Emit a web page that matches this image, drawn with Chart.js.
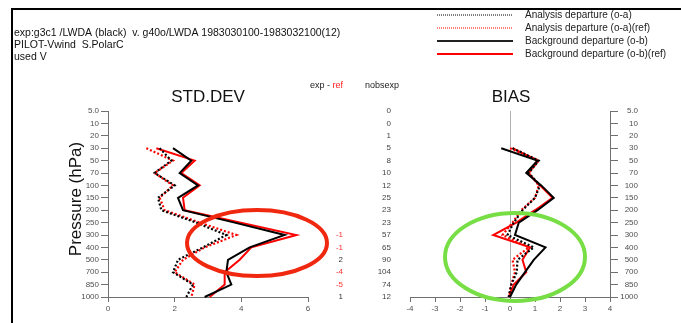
<!DOCTYPE html>
<html>
<head>
<meta charset="utf-8">
<script src="https://cdn.jsdelivr.net/npm/chart.js@4.4.1/dist/chart.umd.min.js"></script>
<style>
  html, body { margin: 0; padding: 0; background: #fff; }
  #wrap { position: relative; width: 681px; height: 323px; overflow: hidden; }
  #wrap canvas { position: absolute; left: 0; top: 0; }
</style>
</head>
<body>
<div id="wrap">
  <canvas id="std" width="681" height="323"></canvas>
  <canvas id="bias" width="681" height="323"></canvas>
</div>
<script>
// Pressure levels (hPa), top of the profile first
const levels = ['5.0', '10', '20', '30', '50', '70', '100', '150', '200', '250', '300', '400', '500', '700', '850', '1000'];

// Standard deviation profiles
const stdOA    = [null, null, null, 1.55, 1.9, 1.4, 2.0, 1.5, 1.6, 2.65, 3.55, 2.85, 2.1, 1.95, 2.55, 2.35];
const stdOARef = [null, null, null, 1.15, 1.95, 1.4, 1.95, 1.55, 1.7, 2.75, 3.85, 2.9, 2.25, 2.0, 2.6, 2.5];
const stdOB    = [null, null, null, 1.95, 2.5, 2.15, 2.7, 2.1, 2.25, 3.8, 5.3, 4.25, 3.6, 3.55, 3.7, 2.9];
const stdOBRef = [null, null, null, 1.45, 2.6, 2.2, 2.75, 2.25, 2.3, 3.95, 5.65, 4.3, 3.95, 3.5, 3.5, 3.05];

// Bias profiles
const biasOA    = [null, null, null, 0.1, 1.15, 0.75, 1.2, 1.0, 0.5, 0.15, -0.1, 0.95, 0.3, 0.27, 0.05, -0.05];
const biasOARef = [null, null, null, 0.0, 1.15, 0.75, 1.15, 1.0, 0.45, 0.1, -0.3, 0.75, 0.1, 0.2, 0.05, -0.05];
const biasOB    = [null, null, null, -0.35, 1.1, 0.65, 1.25, 1.75, 1.1, 0.35, 0.2, 1.42, 0.95, 0.6, 0.25, 0.0];
const biasOBRef = [null, null, null, 0.1, 1.1, 0.7, 1.2, 1.7, 1.0, 0.25, -0.67, 0.8, 0.5, 0.65, 0.15, -0.05];

// Observation counts and exp - ref difference per level
const nobsExp     = [0, 0, 1, 5, 8, 10, 12, 25, 23, 23, 57, 65, 90, 104, 74, 12];
const expMinusRef = [null, null, null, null, null, null, null, null, null, null, -1, -1, 2, -4, -5, 1];

// Axis ticks
const stdTicks  = [0, 2, 4, 6];
const biasTicks = [-4, -3, -2, -1, 0, 1, 2, 3, 4];

const FONT = "'Liberation Sans', Arial, Helvetica, sans-serif";
const AXIS = '#707070';
const TICKTXT = '#505050';

function series(data, color, dotted) {
  return {
    data: data,
    borderColor: color,
    backgroundColor: color,
    borderWidth: dotted ? 2.2 : 2,
    borderDash: dotted ? [2, 2] : [],
    pointRadius: 0,
    tension: 0,
    spanGaps: false,
    fill: false
  };
}

function yScale(position, extra) {
  return Object.assign({
    type: 'category',
    position: position,
    offset: false,
    grid: { drawOnChartArea: false, drawTicks: true, tickLength: 7, color: AXIS, tickColor: AXIS },
    border: { display: true, color: AXIS, width: 1 },
    ticks: { font: { family: FONT, size: 8 }, color: TICKTXT, padding: 2, autoSkip: false }
  }, extra);
}

const stdOverlay = {
  id: 'stdOverlay',
  afterDraw(chart) {
    const ctx = chart.ctx;
    const ys = chart.scales.y, xs = chart.scales.x, area = chart.chartArea;
    ctx.save();

    // frame
    ctx.strokeStyle = '#000';
    ctx.lineWidth = 2;
    ctx.beginPath();
    ctx.moveTo(12, 323); ctx.lineTo(12, 9); ctx.lineTo(681, 9);
    ctx.stroke();

    // header
    ctx.fillStyle = '#111';
    ctx.font = '10.5px ' + FONT;
    ctx.textAlign = 'left';
    ctx.textBaseline = 'middle';
    ctx.fillText('exp:g3c1 /LWDA (black)  v. g40o/LWDA 1983030100-1983032100(12)', 14, 33);
    ctx.fillText('PILOT-Vwind  S.PolarC', 14, 45);
    ctx.fillText('used V', 14, 57);

    // legend
    const leg = [
      ['Analysis departure (o-a)', '#000', true],
      ['Analysis departure (o-a)(ref)', '#ff0000', true],
      ['Background departure (o-b)', '#222', false],
      ['Background departure (o-b)(ref)', '#ff0000', false]
    ];
    const legY = [15, 28, 41, 54];
    ctx.font = '10px ' + FONT;
    leg.forEach((it, i) => {
      const y = legY[i];
      ctx.strokeStyle = it[1];
      if (it[2]) { ctx.lineWidth = 1.2; ctx.setLineDash([1, 1]); }
      else { ctx.lineWidth = 2; ctx.setLineDash([]); }
      ctx.beginPath(); ctx.moveTo(437, y); ctx.lineTo(513, y); ctx.stroke();
      ctx.setLineDash([]);
      ctx.fillStyle = '#222';
      ctx.fillText(it[0], 525, y);
    });

    // panel titles
    ctx.fillStyle = '#111';
    ctx.font = '17px ' + FONT;
    ctx.textAlign = 'center';
    ctx.fillText('STD.DEV', (area.left + area.right) / 2, 97);
    ctx.fillText('BIAS', 511, 97);

    // axis title
    ctx.save();
    ctx.translate(76, 199);
    ctx.rotate(-Math.PI / 2);
    ctx.font = '17px ' + FONT;
    ctx.fillText('Pressure (hPa)', 0, 0);
    ctx.restore();

    // middle columns
    ctx.font = '9px ' + FONT;
    ctx.textAlign = 'left';
    ctx.fillStyle = '#222';
    ctx.fillText('exp - ', 310, 86);
    const w = ctx.measureText('exp - ').width;
    ctx.fillStyle = '#ff2020';
    ctx.fillText('ref', 310 + w, 86);
    ctx.fillStyle = '#222';
    ctx.fillText('nobsexp', 365, 86);

    ctx.font = '8px ' + FONT;
    ctx.textAlign = 'right';
    levels.forEach((lv, i) => {
      const y = ys.getPixelForValue(i);
      ctx.fillStyle = '#444';
      ctx.fillText(String(nobsExp[i]), 391, y);
      const d = expMinusRef[i];
      if (d !== null) {
        ctx.fillStyle = d < 0 ? '#ff3030' : '#333';
        ctx.fillText(String(d), 343, y);
      }
    });

    // highlight ring around the 300-500 hPa region
    const cx = xs.getPixelForValue(4.47), cy = ys.getPixelForValue(10.65);
    ctx.strokeStyle = 'rgb(240,40,16)';
    ctx.lineWidth = 4;
    ctx.beginPath();
    ctx.ellipse(cx, cy, 70, 33, 0, 0, Math.PI * 2);
    ctx.stroke();
    ctx.restore();
  }
};

const biasOverlay = {
  id: 'biasOverlay',
  afterDraw(chart) {
    const ctx = chart.ctx;
    const ys = chart.scales.y, xs = chart.scales.x;
    ctx.save();
    const cx = xs.getPixelForValue(0.2), cy = ys.getPixelForValue(11.77);
    ctx.strokeStyle = 'rgb(120,222,70)';
    ctx.lineWidth = 4;
    ctx.beginPath();
    ctx.ellipse(cx, cy, 70, 44, 0, 0, Math.PI * 2);
    ctx.stroke();
    ctx.restore();
  }
};

new Chart(document.getElementById('std'), {
  type: 'line',
  data: {
    labels: levels,
    datasets: [
      series(stdOB, '#000', false),
      series(stdOA, '#000', true),
      series(stdOBRef, '#ff0000', false),
      series(stdOARef, '#ff0000', true)
    ]
  },
  options: {
    indexAxis: 'y',
    responsive: false,
    animation: false,
    devicePixelRatio: 1,
    layout: { padding: { left: 70, right: 373, top: 111, bottom: 6 } },
    plugins: { legend: { display: false }, tooltip: { enabled: false }, title: { display: false } },
    scales: {
      x: {
        type: 'linear', position: 'bottom', min: 0, max: 6,
        afterBuildTicks: s => { s.ticks = stdTicks.map(v => ({ value: v })); },
        grid: { drawOnChartArea: false, drawTicks: true, tickLength: 5, color: AXIS, tickColor: AXIS },
        border: { display: true, color: AXIS, width: 1 },
        ticks: { font: { family: FONT, size: 8 }, color: TICKTXT, padding: 2, maxRotation: 0, autoSkip: false },
        afterFit: s => { s.height = 20; }
      },
      y: yScale('left', { afterFit: s => { s.width = 38; } })
    }
  },
  plugins: [stdOverlay]
});

new Chart(document.getElementById('bias'), {
  type: 'line',
  data: {
    labels: levels,
    datasets: [
      series(biasOB, '#000', false),
      series(biasOA, '#000', true),
      series(biasOBRef, '#ff0000', false),
      series(biasOARef, '#ff0000', true)
    ]
  },
  options: {
    indexAxis: 'y',
    responsive: false,
    animation: false,
    devicePixelRatio: 1,
    layout: { padding: { left: 410, right: 43, top: 111, bottom: 6 } },
    plugins: { legend: { display: false }, tooltip: { enabled: false }, title: { display: false } },
    scales: {
      x: {
        type: 'linear', position: 'bottom', min: -4, max: 4,
        afterBuildTicks: s => { s.ticks = biasTicks.map(v => ({ value: v })); },
        grid: {
          drawOnChartArea: true, drawTicks: true, tickLength: 5,
          color: c => (c.tick && c.tick.value === 0) ? '#b0b0b0' : 'rgba(0,0,0,0)',
          tickColor: AXIS
        },
        border: { display: true, color: AXIS, width: 1 },
        ticks: { font: { family: FONT, size: 8 }, color: TICKTXT, padding: 2, maxRotation: 0, autoSkip: false },
        afterFit: s => { s.height = 20; }
      },
      y: yScale('right', {
        afterFit: s => { s.width = 28; },
        ticks: { font: { family: FONT, size: 8 }, color: TICKTXT, padding: 2, autoSkip: false, crossAlign: 'far' },
        grid: { drawOnChartArea: false, drawTicks: true, tickLength: 8, color: AXIS, tickColor: AXIS }
      })
    }
  },
  plugins: [biasOverlay]
});
</script>
</body>
</html>
